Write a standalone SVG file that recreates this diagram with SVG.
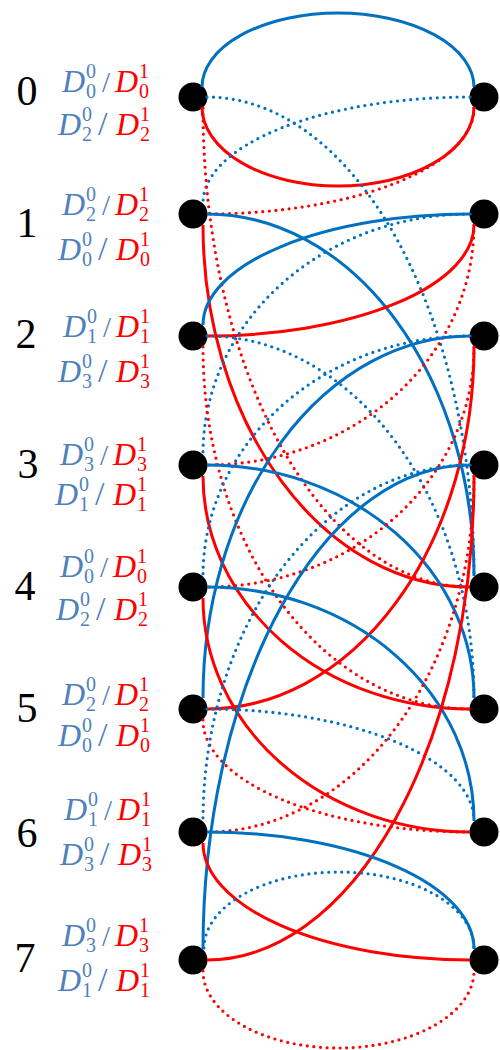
<svg xmlns="http://www.w3.org/2000/svg" width="500" height="1050" viewBox="0 0 500 1050">
<style>
.nd{fill:#000}
.num{font-family:"Liberation Serif",serif;font-size:42px;fill:#000;text-anchor:middle}
.lb{font-family:"Liberation Serif",serif;font-size:32px}
.it{font-style:italic}
.s{font-size:20px}
.sl{font-size:29px}
.sl2{font-size:34px}
.bl{fill:#4F81BD}
.rd{fill:#FF0000}
.e{fill:none;stroke-width:3}
.cb{stroke:#0070C0}
.cr{stroke:#FF0000}
.dt{stroke-width:3.2;stroke-dasharray:0 6.6;stroke-linecap:round}
</style>
<g id="node-L0"><circle class="nd" cx="193" cy="97" r="14.5"/><text class="num" x="27" y="105">0</text>
<text class="lb bl"><tspan class="it" x="62" y="92">D</tspan><tspan class="s" x="86" y="78">0</tspan><tspan class="s" x="86" y="98">0</tspan><tspan class="sl" x="102" y="92">/</tspan></text><text class="lb rd"><tspan class="it" x="115" y="92">D</tspan><tspan class="s" x="139" y="78">1</tspan><tspan class="s" x="139" y="98">0</tspan></text>
<text class="lb bl"><tspan class="it" x="58" y="135">D</tspan><tspan class="s" x="82" y="121">0</tspan><tspan class="s" x="82" y="141">2</tspan><tspan class="sl2" x="98" y="135">/</tspan></text><text class="lb rd"><tspan class="it" x="116" y="135">D</tspan><tspan class="s" x="140" y="121">1</tspan><tspan class="s" x="140" y="141">2</tspan></text></g>
<g id="node-L1"><circle class="nd" cx="193" cy="214" r="14.5"/><text class="num" x="27" y="237">1</text>
<text class="lb bl"><tspan class="it" x="62" y="215">D</tspan><tspan class="s" x="86" y="201">0</tspan><tspan class="s" x="86" y="221">2</tspan><tspan class="sl" x="102" y="215">/</tspan></text><text class="lb rd"><tspan class="it" x="115" y="215">D</tspan><tspan class="s" x="139" y="201">1</tspan><tspan class="s" x="139" y="221">2</tspan></text>
<text class="lb bl"><tspan class="it" x="58" y="260">D</tspan><tspan class="s" x="82" y="246">0</tspan><tspan class="s" x="82" y="266">0</tspan><tspan class="sl2" x="98" y="260">/</tspan></text><text class="lb rd"><tspan class="it" x="116" y="260">D</tspan><tspan class="s" x="140" y="246">1</tspan><tspan class="s" x="140" y="266">0</tspan></text></g>
<g id="node-L2"><circle class="nd" cx="193" cy="336" r="14.5"/><text class="num" x="26" y="348">2</text>
<text class="lb bl"><tspan class="it" x="63" y="337">D</tspan><tspan class="s" x="87" y="323">0</tspan><tspan class="s" x="87" y="343">1</tspan><tspan class="sl" x="103" y="337">/</tspan></text><text class="lb rd"><tspan class="it" x="116" y="337">D</tspan><tspan class="s" x="140" y="323">1</tspan><tspan class="s" x="140" y="343">1</tspan></text>
<text class="lb bl"><tspan class="it" x="58" y="382">D</tspan><tspan class="s" x="82" y="368">0</tspan><tspan class="s" x="82" y="388">3</tspan><tspan class="sl2" x="98" y="382">/</tspan></text><text class="lb rd"><tspan class="it" x="116" y="382">D</tspan><tspan class="s" x="140" y="368">1</tspan><tspan class="s" x="140" y="388">3</tspan></text></g>
<g id="node-L3"><circle class="nd" cx="193" cy="465" r="14.5"/><text class="num" x="28" y="478">3</text>
<text class="lb bl"><tspan class="it" x="60" y="465">D</tspan><tspan class="s" x="84" y="451">0</tspan><tspan class="s" x="84" y="471">3</tspan><tspan class="sl" x="100" y="465">/</tspan></text><text class="lb rd"><tspan class="it" x="113" y="465">D</tspan><tspan class="s" x="137" y="451">1</tspan><tspan class="s" x="137" y="471">3</tspan></text>
<text class="lb bl"><tspan class="it" x="55" y="505">D</tspan><tspan class="s" x="79" y="491">0</tspan><tspan class="s" x="79" y="511">1</tspan><tspan class="sl2" x="95" y="505">/</tspan></text><text class="lb rd"><tspan class="it" x="113" y="505">D</tspan><tspan class="s" x="137" y="491">1</tspan><tspan class="s" x="137" y="511">1</tspan></text></g>
<g id="node-L4"><circle class="nd" cx="193" cy="587" r="14.5"/><text class="num" x="25" y="600">4</text>
<text class="lb bl"><tspan class="it" x="60" y="577">D</tspan><tspan class="s" x="84" y="563">0</tspan><tspan class="s" x="84" y="583">0</tspan><tspan class="sl" x="100" y="577">/</tspan></text><text class="lb rd"><tspan class="it" x="113" y="577">D</tspan><tspan class="s" x="137" y="563">1</tspan><tspan class="s" x="137" y="583">0</tspan></text>
<text class="lb bl"><tspan class="it" x="56" y="620">D</tspan><tspan class="s" x="80" y="606">0</tspan><tspan class="s" x="80" y="626">2</tspan><tspan class="sl2" x="96" y="620">/</tspan></text><text class="lb rd"><tspan class="it" x="114" y="620">D</tspan><tspan class="s" x="138" y="606">1</tspan><tspan class="s" x="138" y="626">2</tspan></text></g>
<g id="node-L5"><circle class="nd" cx="193" cy="709" r="14.5"/><text class="num" x="27" y="722">5</text>
<text class="lb bl"><tspan class="it" x="62" y="705">D</tspan><tspan class="s" x="86" y="691">0</tspan><tspan class="s" x="86" y="711">2</tspan><tspan class="sl" x="102" y="705">/</tspan></text><text class="lb rd"><tspan class="it" x="115" y="705">D</tspan><tspan class="s" x="139" y="691">1</tspan><tspan class="s" x="139" y="711">2</tspan></text>
<text class="lb bl"><tspan class="it" x="58" y="746">D</tspan><tspan class="s" x="82" y="732">0</tspan><tspan class="s" x="82" y="752">0</tspan><tspan class="sl2" x="98" y="746">/</tspan></text><text class="lb rd"><tspan class="it" x="116" y="746">D</tspan><tspan class="s" x="140" y="732">1</tspan><tspan class="s" x="140" y="752">0</tspan></text></g>
<g id="node-L6"><circle class="nd" cx="193" cy="832" r="14.5"/><text class="num" x="27" y="847">6</text>
<text class="lb bl"><tspan class="it" x="64" y="820">D</tspan><tspan class="s" x="88" y="806">0</tspan><tspan class="s" x="88" y="826">1</tspan><tspan class="sl" x="104" y="820">/</tspan></text><text class="lb rd"><tspan class="it" x="117" y="820">D</tspan><tspan class="s" x="141" y="806">1</tspan><tspan class="s" x="141" y="826">1</tspan></text>
<text class="lb bl"><tspan class="it" x="60" y="865">D</tspan><tspan class="s" x="84" y="851">0</tspan><tspan class="s" x="84" y="871">3</tspan><tspan class="sl2" x="100" y="865">/</tspan></text><text class="lb rd"><tspan class="it" x="118" y="865">D</tspan><tspan class="s" x="142" y="851">1</tspan><tspan class="s" x="142" y="871">3</tspan></text></g>
<g id="node-L7"><circle class="nd" cx="193" cy="960" r="14.5"/><text class="num" x="25" y="972">7</text>
<text class="lb bl"><tspan class="it" x="62" y="946">D</tspan><tspan class="s" x="86" y="932">0</tspan><tspan class="s" x="86" y="952">3</tspan><tspan class="sl" x="102" y="946">/</tspan></text><text class="lb rd"><tspan class="it" x="115" y="946">D</tspan><tspan class="s" x="139" y="932">1</tspan><tspan class="s" x="139" y="952">3</tspan></text>
<text class="lb bl"><tspan class="it" x="58" y="991">D</tspan><tspan class="s" x="82" y="977">0</tspan><tspan class="s" x="82" y="997">1</tspan><tspan class="sl2" x="98" y="991">/</tspan></text><text class="lb rd"><tspan class="it" x="116" y="991">D</tspan><tspan class="s" x="140" y="977">1</tspan><tspan class="s" x="140" y="997">1</tspan></text></g>
<g id="node-R0"><circle class="nd" cx="484" cy="97" r="14.5"/></g>
<g id="node-R1"><circle class="nd" cx="484" cy="214" r="14.5"/></g>
<g id="node-R2"><circle class="nd" cx="484" cy="336" r="14.5"/></g>
<g id="node-R3"><circle class="nd" cx="484" cy="465" r="14.5"/></g>
<g id="node-R4"><circle class="nd" cx="484" cy="587" r="14.5"/></g>
<g id="node-R5"><circle class="nd" cx="484" cy="709" r="14.5"/></g>
<g id="node-R6"><circle class="nd" cx="484" cy="832" r="14.5"/></g>
<g id="node-R7"><circle class="nd" cx="484" cy="960" r="14.5"/></g>
<g id="connectors">
<path class="e cb" d="M202 87 A136 74 0 0 1 474 87"/>
<path class="e cr" d="M202 107 A136 79 0 0 0 474 107"/>
<path class="e cb dt" d="M470 97 A267 106 0 0 0 203 203"/>
<path class="e cr dt" d="M474 108 A267 106 0 0 1 207 214"/>
<path class="e cb dt" d="M207 97 A267 479 0 0 1 474 576"/>
<path class="e cr dt" d="M203 108 A267 479 0 0 0 470 587"/>
<path class="e cb" d="M207 214 A267 362 0 0 1 474 576"/>
<path class="e cr" d="M203 225 A267 362 0 0 0 470 587"/>
<path class="e cb" d="M470 214 A267 111 0 0 0 203 325"/>
<path class="e cr" d="M474 225 A267 111 0 0 1 207 336"/>
<path class="e cb dt" d="M470 214 A267 240 0 0 0 203 454"/>
<path class="e cr dt" d="M474 225 A267 240 0 0 1 207 465"/>
<path class="e cb dt" d="M207 336 A267 362 0 0 1 474 698"/>
<path class="e cr dt" d="M203 347 A267 362 0 0 0 470 709"/>
<path class="e cb" d="M207 465 A267 233 0 0 1 474 698"/>
<path class="e cr" d="M203 476 A267 233 0 0 0 470 709"/>
<path class="e cb dt" d="M470 336 A267 240 0 0 0 203 576"/>
<path class="e cr dt" d="M474 347 A267 240 0 0 1 207 587"/>
<path class="e cb" d="M470 336 A267 362 0 0 0 203 698"/>
<path class="e cr" d="M474 347 A267 362 0 0 1 207 709"/>
<path class="e cb" d="M207 587 A267 234 0 0 1 474 821"/>
<path class="e cr" d="M203 598 A267 234 0 0 0 470 832"/>
<path class="e cb dt" d="M207 709 A267 112 0 0 1 474 821"/>
<path class="e cr dt" d="M203 720 A267 112 0 0 0 470 832"/>
<path class="e cb dt" d="M470 465 A267 356 0 0 0 203 821"/>
<path class="e cr dt" d="M474 476 A267 356 0 0 1 207 832"/>
<path class="e cb" d="M470 465 A267 484 0 0 0 203 949"/>
<path class="e cr" d="M474 476 A267 484 0 0 1 207 960"/>
<path class="e cb" d="M207 832 A267 117 0 0 1 474 949"/>
<path class="e cr" d="M203 843 A267 117 0 0 0 470 960"/>
<path class="e cb dt" d="M204 948 A135 76 0 0 1 474 948"/>
<path class="e cr dt" d="M203 971 A135.5 77 0 0 0 474 971"/>
</g>
</svg>
